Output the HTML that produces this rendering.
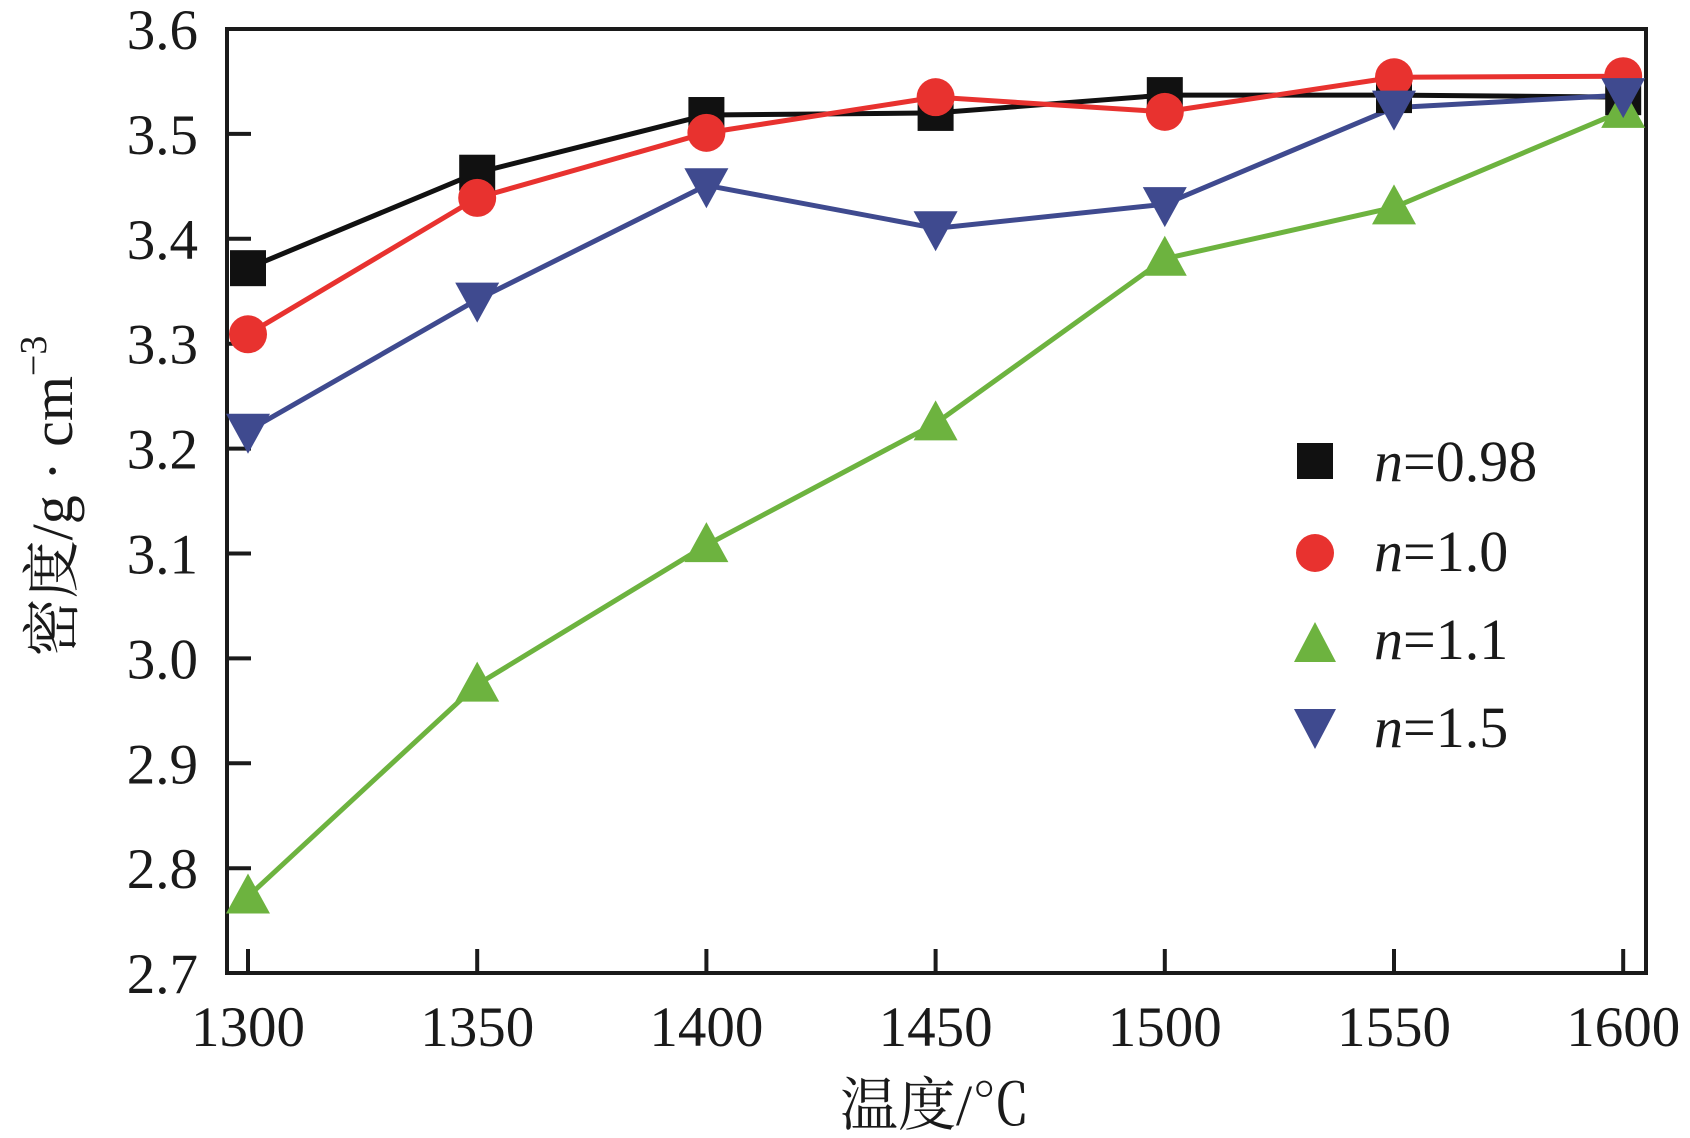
<!DOCTYPE html>
<html><head><meta charset="utf-8"><style>
html,body{margin:0;padding:0;background:#fff;}
svg{display:block;}
text{font-family:"Liberation Serif","Noto Serif CJK SC",serif;fill:#1a1a1a;}
</style></head><body>
<svg id="s" width="1690" height="1138" viewBox="0 0 1690 1138" xmlns="http://www.w3.org/2000/svg">
<rect x="227" y="29" width="1419" height="944" fill="none" stroke="#1a1a1a" stroke-width="4"/>
<g id="ticks"></g>
<g id="series"></g>
<text x="935" y="1125" font-size="58" text-anchor="middle">温度/℃</text>
<text transform="translate(72,496) rotate(-90)" font-size="58" text-anchor="middle">密度/g · cm<tspan dy="-26" font-size="38">−3</tspan></text>
<g id="legend" font-size="58">
<rect x="1297" y="443" width="36" height="36" fill="#111"/>
<text x="1374" y="481"><tspan font-style="italic">n</tspan>=0.98</text>
<circle cx="1315" cy="553" r="19" fill="#e8322f"/>
<text x="1374" y="571"><tspan font-style="italic">n</tspan>=1.0</text>
<polygon points="1315,622 1336,662 1294,662" fill="#6db33f"/>
<text x="1374" y="659"><tspan font-style="italic">n</tspan>=1.1</text>
<polygon points="1294,709 1336,709 1315,749" fill="#3f4a8f"/>
<text x="1374" y="747"><tspan font-style="italic">n</tspan>=1.5</text>
</g>
</svg>
<script>
var NS="http://www.w3.org/2000/svg";
function X(t){return 248+(t-1300)/50*229.2;}
function Y(v){return 29+(3.6-v)/0.1*104.9;}
function el(n,a,p){var e=document.createElementNS(NS,n);for(var k in a)e.setAttribute(k,a[k]);p.appendChild(e);return e;}
var tg=document.getElementById('ticks');
for(var i=0;i<=9;i++){var v=2.7+i*0.1,y=Y(v);
 if(i>0&&i<9)el('line',{x1:227,y1:y,x2:251,y2:y,stroke:'#1a1a1a','stroke-width':4},tg);
 var t=el('text',{x:198,y:y+20,'font-size':57,'text-anchor':'end'},tg);t.textContent=v.toFixed(1);}
for(var t0=1300;t0<=1600;t0+=50){var x=X(t0);
 el('line',{x1:x,y1:973,x2:x,y2:949,stroke:'#1a1a1a','stroke-width':4},tg);
 var t=el('text',{x:x,y:1046,'font-size':57,'text-anchor':'middle'},tg);t.textContent=t0;}
var T=[1300,1350,1400,1450,1500,1550,1600];
var S=[
 {c:'#111',m:'sq',d:[3.372,3.463,3.518,3.52,3.537,3.537,3.535]},
 {c:'#e8322f',m:'ci',d:[3.309,3.439,3.501,3.535,3.521,3.554,3.555]},
 {c:'#6db33f',m:'up',d:[2.773,2.975,3.108,3.224,3.381,3.430,3.522]},
 {c:'#3f4a8f',m:'dn',d:[3.217,3.342,3.451,3.410,3.433,3.525,3.537]}];
var sg=document.getElementById('series');
S.forEach(function(s){
 var pts=s.d.map(function(v,i){return X(T[i])+','+Y(v);}).join(' ');
 el('polyline',{points:pts,fill:'none',stroke:s.c,'stroke-width':5},sg);});
S.forEach(function(s){
 s.d.forEach(function(v,i){var x=X(T[i]),y=Y(v);
  if(s.m=='sq')el('rect',{x:x-18,y:y-18,width:36,height:36,fill:s.c},sg);
  else if(s.m=='ci')el('circle',{cx:x,cy:y,r:19,fill:s.c},sg);
  else if(s.m=='up')el('polygon',{points:(x)+','+(y-23)+' '+(x+22)+','+(y+17)+' '+(x-22)+','+(y+17),fill:s.c},sg);
  else el('polygon',{points:(x-22)+','+(y-17)+' '+(x+22)+','+(y-17)+' '+x+','+(y+23),fill:s.c},sg);
 });});
</script>
</body></html>
